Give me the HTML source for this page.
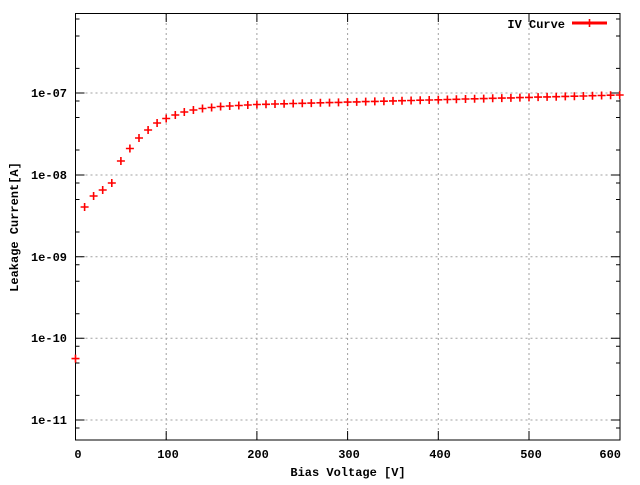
<!DOCTYPE html>
<html><head><meta charset="utf-8"><style>
html,body{margin:0;padding:0;background:#fff;}
svg text{font-family:"Liberation Mono","DejaVu Sans Mono",monospace;font-weight:bold;font-size:12px;fill:#000;}
</style></head><body>
<svg width="640" height="480" viewBox="0 0 640 480" xmlns="http://www.w3.org/2000/svg">
<defs><path id="p" d="M-4 0h8M0 -4v8" stroke="#f00" stroke-width="1.6" fill="none"/></defs>
<g stroke="#a0a0a0" stroke-width="1" stroke-dasharray="2,3" fill="none">
<path d="M166.2 13V440M256.9 13V440M347.6 13V440M438.3 13V440M529 13V440"/>
<path d="M75.5 93H620M75.5 175H620M75.5 256.7H620M75.5 338.3H620M75.5 420H620"/>
</g>
<rect x="75.5" y="13.5" width="544.5" height="426.5" fill="none" stroke="#000" stroke-width="1"/>
<g stroke="#000" stroke-width="1">
<path d="M75.5 93h9M620 93h-9M75.5 175h9M620 175h-9M75.5 256.7h9M620 256.7h-9M75.5 338.3h9M620 338.3h-9M75.5 420h9M620 420h-9"/>
<path d="M75.5 19h4M75.5 36h4M75.5 68.4h4M75.5 101h4M75.5 117.5h4M75.5 150h4M75.5 183h4M75.5 199.5h4M75.5 232h4M75.5 264.7h4M75.5 281.3h4M75.5 313.7h4M75.5 346.3h4M75.5 363h4M75.5 395.4h4M75.5 428h4"/>
<path d="M620 19h-4M620 36h-4M620 68.4h-4M620 101h-4M620 117.5h-4M620 150h-4M620 183h-4M620 199.5h-4M620 232h-4M620 264.7h-4M620 281.3h-4M620 313.7h-4M620 346.3h-4M620 363h-4M620 395.4h-4M620 428h-4"/>
<path d="M166.2 440v-9M256.9 440v-9M347.6 440v-9M438.3 440v-9M529 440v-9M166.2 13v9M256.9 13v9M347.6 13v9M438.3 13v9M529 13v9"/>
</g>
<g text-anchor="end">
<text x="67" y="97">1e-07</text>
<text x="67" y="179">1e-08</text>
<text x="67" y="261">1e-09</text>
<text x="67" y="342">1e-10</text>
<text x="67" y="424">1e-11</text>
</g>
<g text-anchor="middle">
<text x="78" y="458">0</text>
<text x="168" y="458">100</text>
<text x="258" y="458">200</text>
<text x="349" y="458">300</text>
<text x="440" y="458">400</text>
<text x="621" y="458" text-anchor="end">600</text>
<text x="531" y="458">500</text>
<text x="348" y="476">Bias Voltage [V]</text>
<text transform="translate(18,227) rotate(-90)">Leakage Current[A]</text>
</g>
<text x="565" y="28" text-anchor="end">IV Curve</text>
<path d="M572 23H607" stroke="#f00" stroke-width="3"/>
<use href="#p" x="589.5" y="23"/>
<g>
<use href="#p" x="75.5" y="358.6"/><use href="#p" x="84.6" y="207"/><use href="#p" x="93.6" y="196"/><use href="#p" x="102.7" y="190"/><use href="#p" x="111.8" y="183"/><use href="#p" x="120.9" y="161"/><use href="#p" x="129.9" y="148.5"/><use href="#p" x="139" y="138"/><use href="#p" x="148.1" y="130"/><use href="#p" x="157.1" y="123"/><use href="#p" x="166.2" y="118.5"/><use href="#p" x="175.3" y="115"/><use href="#p" x="184.3" y="112"/><use href="#p" x="193.4" y="110"/><use href="#p" x="202.5" y="108.5"/><use href="#p" x="211.6" y="107.5"/><use href="#p" x="220.6" y="106.5"/><use href="#p" x="229.7" y="106"/><use href="#p" x="238.8" y="105.5"/><use href="#p" x="247.8" y="105"/><use href="#p" x="256.9" y="104.5"/><use href="#p" x="266" y="104.3"/><use href="#p" x="275" y="104"/><use href="#p" x="284.1" y="103.8"/><use href="#p" x="293.2" y="103.5"/><use href="#p" x="302.3" y="103.3"/><use href="#p" x="311.3" y="103.1"/><use href="#p" x="320.4" y="102.8"/><use href="#p" x="329.5" y="102.6"/><use href="#p" x="338.5" y="102.4"/><use href="#p" x="347.6" y="102.1"/><use href="#p" x="356.7" y="101.9"/><use href="#p" x="365.7" y="101.6"/><use href="#p" x="374.8" y="101.4"/><use href="#p" x="383.9" y="101.2"/><use href="#p" x="393" y="100.9"/><use href="#p" x="402" y="100.7"/><use href="#p" x="411.1" y="100.5"/><use href="#p" x="420.2" y="100.2"/><use href="#p" x="429.2" y="100"/><use href="#p" x="438.3" y="99.8"/><use href="#p" x="447.4" y="99.5"/><use href="#p" x="456.4" y="99.3"/><use href="#p" x="465.5" y="99"/><use href="#p" x="474.6" y="98.8"/><use href="#p" x="483.7" y="98.6"/><use href="#p" x="492.7" y="98.3"/><use href="#p" x="501.8" y="98.1"/><use href="#p" x="510.9" y="97.9"/><use href="#p" x="519.9" y="97.6"/><use href="#p" x="529" y="97.4"/><use href="#p" x="538.1" y="97.1"/><use href="#p" x="547.1" y="96.9"/><use href="#p" x="556.2" y="96.7"/><use href="#p" x="565.3" y="96.4"/><use href="#p" x="574.4" y="96.2"/><use href="#p" x="583.4" y="96"/><use href="#p" x="592.5" y="95.7"/><use href="#p" x="601.6" y="95.5"/><use href="#p" x="610.6" y="95.2"/><use href="#p" x="619.7" y="95"/>
</g>
</svg>
</body></html>
